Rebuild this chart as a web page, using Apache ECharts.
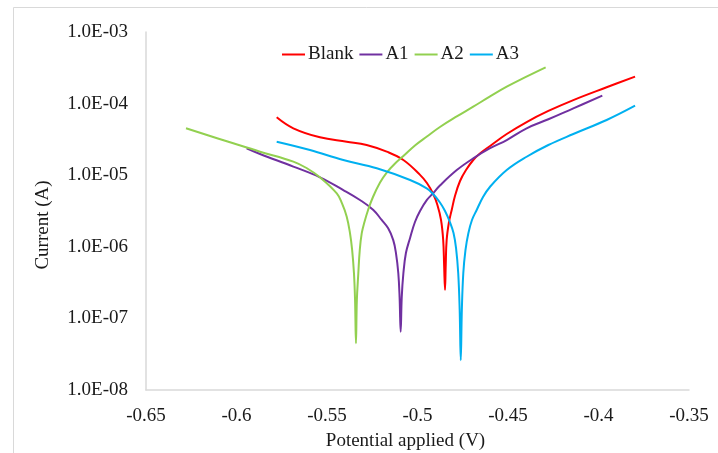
<!DOCTYPE html>
<html>
<head>
<meta charset="utf-8">
<script src="https://cdn.jsdelivr.net/npm/echarts@6/dist/echarts.min.js"></script>
<style>
html,body{margin:0;padding:0;background:#fff;}
#chart{width:718px;height:453px;}
</style>
</head>
<body>
<div id="chart"></div>
<script>
// Potential (V) and current (A)
const seriesNames = ['Blank', 'A1', 'A2', 'A3'];

const blankV = [-0.5778,-0.5686,-0.5539,-0.5391,-0.5281,-0.5170,-0.5078,-0.4986,-0.4948,-0.4913,-0.4890,-0.4870,-0.4858,-0.4853,-0.4848,-0.4844,-0.4839,-0.4826,-0.4811,-0.4793,-0.4765,-0.4732,-0.4692,-0.4655,-0.4599,-0.4507,-0.4397,-0.4277,-0.4139,-0.3955,-0.3798];
const blankI = [6.44e-5,4.52e-5,3.38e-5,2.94e-5,2.64e-5,2.13e-5,1.63e-5,1.01e-5,7.78e-6,5.46e-6,3.84e-6,2.37e-6,1.24e-6,5.57e-7,2.5e-7,5.57e-7,1.24e-6,2.22e-6,3.27e-6,5.12e-6,8.3e-6,1.18e-5,1.63e-5,2.01e-5,2.56e-5,3.76e-5,5.53e-5,7.89e-5,1.12e-4,1.69e-4,2.38e-4];

const a1V = [-0.5944,-0.5870,-0.5686,-0.5539,-0.5410,-0.5318,-0.5244,-0.5198,-0.5162,-0.5134,-0.5119,-0.5106,-0.5099,-0.5093,-0.5087,-0.5078,-0.5064,-0.5041,-0.5014,-0.4986,-0.4948,-0.4913,-0.4876,-0.4783,-0.4692,-0.4599,-0.4507,-0.4397,-0.4277,-0.4139,-0.3979];
const a1I = [2.38e-5,1.98e-5,1.32e-5,9.35e-6,6.21e-6,4.51e-6,3.27e-6,2.37e-6,1.81e-6,1.24e-6,8.18e-7,4.27e-7,1.99e-7,6.5e-8,1.99e-7,4.27e-7,8.18e-7,1.33e-6,2.22e-6,3.16e-6,4.51e-6,5.64e-6,7.18e-6,1.18e-5,1.72e-5,2.38e-5,3.1e-5,4.52e-5,6.04e-5,8.59e-5,1.29e-4];

const a2V = [-0.6279,-0.6018,-0.5870,-0.5686,-0.5613,-0.5539,-0.5446,-0.5417,-0.5391,-0.5373,-0.5361,-0.5351,-0.5345,-0.5340,-0.5335,-0.5327,-0.5319,-0.5308,-0.5293,-0.5273,-0.5246,-0.5207,-0.5170,-0.5124,-0.5078,-0.5014,-0.4948,-0.4876,-0.4783,-0.4692,-0.4599,-0.4507,-0.4401,-0.4292];
const a2I = [4.52e-5,2.79e-5,2.13e-5,1.55e-5,1.26e-5,9.35e-6,5.58e-6,4.03e-6,2.63e-6,1.55e-6,9.0e-7,4.27e-7,1.81e-7,4.5e-8,1.81e-7,4.27e-7,9.0e-7,1.55e-6,2.22e-6,3.27e-6,4.96e-6,7.91e-6,1.09e-5,1.46e-5,1.85e-5,2.6e-5,3.47e-5,4.71e-5,6.61e-5,9.06e-5,1.26e-4,1.72e-4,2.36e-4,3.21e-4];

const a3V = [-0.5778,-0.5594,-0.5410,-0.5225,-0.5041,-0.4949,-0.4914,-0.4876,-0.4848,-0.4821,-0.4801,-0.4787,-0.4775,-0.4767,-0.4761,-0.4755,-0.4747,-0.4735,-0.4719,-0.4699,-0.4673,-0.4638,-0.4599,-0.4507,-0.4397,-0.4277,-0.4139,-0.3955,-0.3798];
const a3I = [2.94e-5,2.25e-5,1.63e-5,1.25e-5,8.57e-6,6.56e-6,5.46e-6,4.16e-6,3.16e-6,2.22e-6,1.56e-6,9.6e-7,4.27e-7,1.31e-7,2.6e-8,1.31e-7,4.27e-7,9.0e-7,1.55e-6,2.37e-6,3.27e-6,4.96e-6,6.9e-6,1.18e-5,1.81e-5,2.64e-5,3.76e-5,5.9e-5,9.35e-5];

const yTicks = [1e-8, 1e-7, 1e-6, 1e-5, 1e-4, 1e-3];
const yTickLabels = ['1.0E-08','1.0E-07','1.0E-06','1.0E-05','1.0E-04','1.0E-03'];

const colors = ['#FF0000', '#7030A0', '#92D050', '#00B0F0'];
const allV = [blankV, a1V, a2V, a3V];
const allI = [blankI, a1I, a2I, a3I];

const font = 'Liberation Serif';
const textColor = '#1a1a1a';

function yLabel(v) {
  let best = 0, bd = Infinity;
  for (let i = 0; i < yTicks.length; i++) {
    const d = Math.abs(Math.log10(v) - Math.log10(yTicks[i]));
    if (d < bd) { bd = d; best = i; }
  }
  return yTickLabels[best];
}

const chart = echarts.init(document.getElementById('chart'), null, {renderer: 'canvas'});
chart.setOption({
  animation: false,
  backgroundColor: '#fff',
  graphic: [{
    type: 'rect',
    shape: {x: 13.5, y: 7.5, width: 760, height: 500},
    style: {fill: 'none', stroke: '#d9d9d9', lineWidth: 1},
    silent: true
  }],
  grid: {left: 146, right: 29, top: 32, bottom: 63, containLabel: false, outerBoundsMode: 'none'},
  legend: {
    data: seriesNames,
    left: 277,
    top: 40,
    icon: 'rect',
    itemWidth: 23,
    itemHeight: 2,
    itemGap: 6,
    textStyle: {fontFamily: font, fontSize: 19, color: textColor, padding: [0, 2, 0, -2]}
  },
  xAxis: {
    type: 'value',
    min: -0.65,
    max: -0.35,
    interval: 0.05,
    name: 'Potential applied (V)',
    nameLocation: 'middle',
    nameGap: 42,
    nameTextStyle: {fontFamily: font, fontSize: 19, color: textColor, padding: [0, 24, 0, 0]},
    axisLine: {show: true, lineStyle: {color: '#d9d9d9', width: 1.5}},
    axisTick: {show: false},
    splitLine: {show: false},
    axisLabel: {fontFamily: font, fontSize: 19, color: textColor, margin: 17}
  },
  yAxis: {
    type: 'log',
    logBase: 10,
    min: 1e-8,
    max: 1e-3,
    name: 'Current (A)',
    nameLocation: 'middle',
    nameGap: 93,
    nameRotate: 90,
    nameTextStyle: {fontFamily: font, fontSize: 19, color: textColor, padding: [0, 28, 0, 0]},
    axisLine: {show: true, lineStyle: {color: '#d9d9d9', width: 1.5}},
    axisTick: {show: false},
    splitLine: {show: false},
    minorTick: {show: false},
    axisLabel: {fontFamily: font, fontSize: 19, color: textColor, margin: 18, formatter: yLabel}
  },
  series: seriesNames.map((n, k) => ({
    name: n,
    type: 'line',
    showSymbol: false,
    symbol: 'none',
    smooth: 0.4,
    data: allV[k].map((v, i) => [v, allI[k][i]]),
    lineStyle: {color: colors[k], width: 2},
    itemStyle: {color: colors[k]}
  }))
});
</script>
</body>
</html>
